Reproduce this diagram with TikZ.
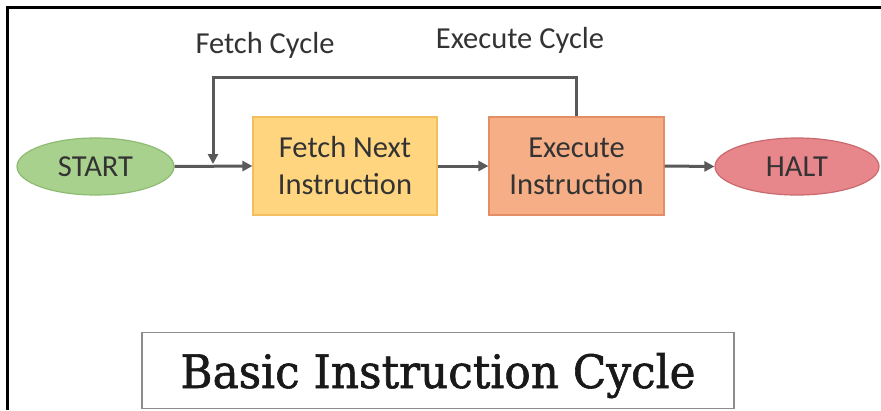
\documentclass[tikz,border=0pt]{standalone}
\usepackage{fontspec}
\setmainfont{Carlito}
\newfontfamily\titlefont[FakeBold=1.3]{DejaVu Serif}
\usetikzlibrary{shapes.geometric,arrows.meta}
\definecolor{txt}{HTML}{333333}
\definecolor{conncol}{HTML}{595959}
\definecolor{startfill}{HTML}{A9D18E}
\definecolor{startdraw}{HTML}{8DBB72}
\definecolor{fetchfill}{HTML}{FFD67F}
\definecolor{fetchdraw}{HTML}{F2BE5E}
\definecolor{execfill}{HTML}{F6AE86}
\definecolor{execdraw}{HTML}{E38E66}
\definecolor{haltfill}{HTML}{E7868B}
\definecolor{haltdraw}{HTML}{C96A6E}
\definecolor{titledraw}{HTML}{8C8C8C}
\tikzset{
  lbl/.style={text=txt, font=\fontsize{30.5}{37}\selectfont, inner sep=0pt},
  terminal/.style={ellipse, lbl, line width=1.2pt, minimum height=57pt},
  procbox/.style={rectangle, lbl, align=center, line width=1.2pt, minimum height=98pt},
  conn/.style={draw=conncol, line width=3pt, -{Triangle[length=10pt,width=10pt]}},
}
\begin{document}
\begin{tikzpicture}[x=1pt,y=-1pt]
\useasboundingbox (0,0) rectangle (881,410);
\fill[white] (0,0) rectangle (881,410);
\draw[black, line width=2.5pt] (881,7.5) -- (7.5,7.5) -- (7.5,410);

\node[terminal, fill=startfill, draw=startdraw, minimum width=157pt] (start) at (95.5,166.5) {START};
\node[procbox, fill=fetchfill, draw=fetchdraw, minimum width=184pt] (fetch) at (345,166) {Fetch Next\\Instruction};
\node[procbox, fill=execfill, draw=execdraw, minimum width=175pt] (exec) at (576.5,166) {Execute\\Instruction};
\node[terminal, fill=haltfill, draw=haltdraw, minimum width=164pt] (halt) at (797,166.5) {HALT};

\node[lbl] (fetchlbl) at (265,45) {Fetch Cycle};
\node[lbl] (execlbl) at (520,40) {Execute Cycle};

\coordinate (looptop) at (213,77);
\coordinate (loopend) at (213,164);

\draw[conn] (start.east) -- (fetch.west);
\draw[conn] (fetch.east) -- (exec.west);
\draw[conn] (exec.east) -- (halt.west);
\draw[conn] (exec.north) |- (looptop) -- (loopend);

\node[draw=titledraw, line width=1.5pt, minimum width=592pt, minimum height=76pt, inner sep=0pt, text depth=0pt, text=black!90] (title) at (438,370.5)
  {\resizebox{515pt}{35pt}{\titlefont Basic Instruction Cycle}};
\end{tikzpicture}
\end{document}
